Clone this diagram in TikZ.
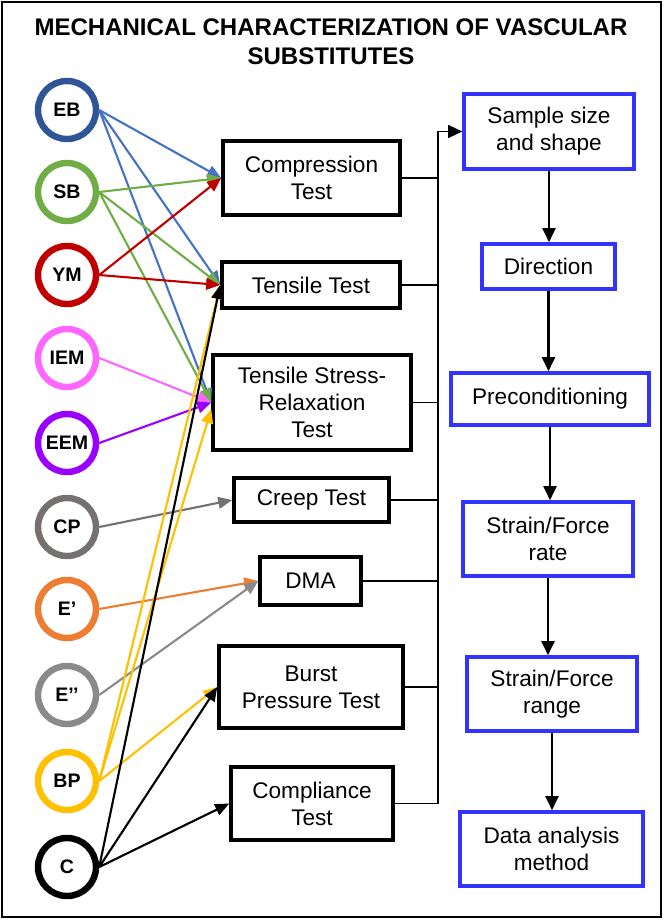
\documentclass[tikz,border=0pt]{standalone}
\usepackage{fontspec}
\setmainfont{Liberation Sans}
\usetikzlibrary{arrows.meta}
\definecolor{cEB}{HTML}{2F5597}
\definecolor{lEB}{HTML}{4472C4}
\definecolor{cSB}{HTML}{70AD47}
\definecolor{cYM}{HTML}{C00000}
\definecolor{cIEM}{HTML}{FF66FF}
\definecolor{cEEM}{HTML}{9900FF}
\definecolor{cCP}{HTML}{767171}
\definecolor{cEp}{HTML}{ED7D31}
\definecolor{cEpp}{HTML}{8A8A8A}
\definecolor{cBP}{HTML}{FFC000}
\definecolor{boxblue}{HTML}{3333FF}
\begin{document}
\begin{tikzpicture}[x=0.03cm,y=-0.03cm,
  circ/.style={circle, line width=5.5pt, minimum size=1.74cm, inner sep=0pt, fill=white,
    font=\fontsize{16.7}{20}\selectfont\bfseries},
  testbox/.style={draw, line width=3pt, align=center, inner sep=0pt,
    font=\fontsize{19.3}{23.2}\selectfont},
  bluebox/.style={testbox, draw=boxblue},
  conn/.style={line width=1.8pt, -{Triangle[length=12pt,width=10pt]}},
  bus/.style={line width=1.6pt},
  flow/.style={line width=2pt, -{Triangle[length=12pt,width=11pt]}}]
\useasboundingbox (0,0) rectangle (664,921);
\draw[line width=2.5pt] (2,2) rectangle (661,917);
\node[font=\fontsize{20.5}{24.8}\selectfont\bfseries, align=center] (title) at (331,42)
  {MECHANICAL CHARACTERIZATION OF VASCULAR\\SUBSTITUTES};

% circles
\node[circ, draw=cEB] (EB) at (67,110) {EB};
\node[circ, draw=cSB] (SB) at (67,192) {SB};
\node[circ, draw=cYM] (YM) at (67,275) {YM};
\node[circ, draw=cIEM] (IEM) at (67,358) {IEM};
\node[circ, draw=cEEM] (EEM) at (67,443) {EEM};
\node[circ, draw=cCP] (CP) at (67,527) {CP};
\node[circ, draw=cEp] (Ep) at (67,609) {E’};
\node[circ, draw=cEpp] (Epp) at (67,695) {E’’};
\node[circ, draw=cBP] (BP) at (67,781) {BP};
\node[circ, draw=black] (C) at (67,867) {C};

% test boxes
\node[testbox, minimum width=5.31cm, minimum height=2.22cm] (comp) at (311.5,178) {Compression\\Test};
\node[testbox, minimum width=5.34cm, minimum height=1.38cm] (tens) at (311,285) {Tensile Test};
\node[testbox, minimum width=5.94cm, minimum height=2.85cm] (tsr) at (312,402.5) {Tensile Stress-\\Relaxation\\Test};
\node[testbox, minimum width=4.65cm, minimum height=1.32cm] (creep) at (311.5,500) {Creep Test};
\node[testbox, minimum width=3.03cm, minimum height=1.44cm] (dma) at (310.5,581) {DMA};
\node[testbox, minimum width=5.52cm, minimum height=2.46cm] (burst) at (311,687) {Burst\\Pressure Test};
\node[testbox, minimum width=4.86cm, minimum height=2.19cm] (compl) at (312,803.5) {Compliance\\Test};

% blue boxes
\node[bluebox, minimum width=5.1cm, minimum height=2.25cm] (sample) at (549,131.5) {Sample size\\and shape};
\node[bluebox, minimum width=3.99cm, minimum height=1.35cm] (dir) at (548.5,266.5) {Direction};
\node[bluebox, minimum width=5.94cm, minimum height=1.56cm] (pre) at (550,399) {Preconditioning};
\node[bluebox, minimum width=5.1cm, minimum height=2.22cm] (rate) at (548,539) {Strain/Force\\rate};
\node[bluebox, minimum width=5.1cm, minimum height=2.22cm] (range) at (552,694) {Strain/Force\\range};
\node[bluebox, minimum width=5.49cm, minimum height=2.22cm] (data) at (551.5,849) {Data analysis\\method};

% circle -> test connectors
\draw[conn, lEB] (EB.east) -- (comp.west);
\draw[conn, lEB] (EB.east) -- (tens.west);
\draw[conn, lEB] (EB.east) -- (tsr.west);
\draw[conn, cSB] (SB.east) -- (comp.west);
\draw[conn, cSB] (SB.east) -- (tens.west);
\draw[conn, cSB] (SB.east) -- (tsr.west);
\draw[conn, cYM] (YM.east) -- (comp.west);
\draw[conn, cYM] (YM.east) -- (tens.west);
\draw[conn, cIEM] (IEM.east) -- (tsr.west);
\draw[conn, cEEM] (EEM.east) -- (tsr.west);
\draw[conn, cCP] (CP.east) -- (creep.west);
\draw[conn, cEp] (Ep.east) -- (dma.west);
\draw[conn, cEpp] (Epp.east) -- (dma.west);
\draw[conn, cBP] (BP.east) -- (tens.west);
\draw[conn, cBP] (BP.east) -- ([yshift=-0.2cm]tsr.west);
\draw[conn, cBP] (BP.east) -- (burst.west);
\draw[conn, black] (C.east) -- (tens.west);
\draw[conn, black] (C.east) -- (burst.west);
\draw[conn, black] (C.east) -- (compl.west);

% bus
\coordinate (bustop) at (438,131.5);
\draw[bus] (comp.east) -- (comp.east -| bustop);
\draw[bus] (tens.east) -- (tens.east -| bustop);
\draw[bus] (tsr.east) -- (tsr.east -| bustop);
\draw[bus] (creep.east) -- (creep.east -| bustop);
\draw[bus] (dma.east) -- (dma.east -| bustop);
\draw[bus] (burst.east) -- (burst.east -| bustop);
\draw[bus, -{Triangle[length=12pt,width=11pt]}] (compl.east) -- (compl.east -| bustop) -- (bustop) -- (sample.west);

% flow
\draw[flow] (sample.south) -- (sample.south |- dir.north);
\draw[flow] (dir.south) -- (dir.south |- pre.north);
\draw[flow] (pre.south) -- (pre.south |- rate.north);
\draw[flow] (rate.south) -- (rate.south |- range.north);
\draw[flow] (range.south) -- (range.south |- data.north);
\end{tikzpicture}
\end{document}
